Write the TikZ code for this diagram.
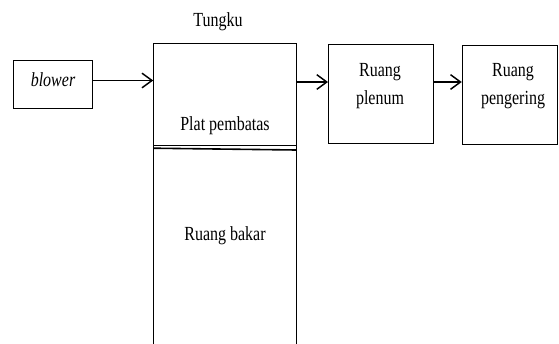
\documentclass[tikz,border=0pt]{standalone}
\usepackage{fontspec}
\setmainfont{Liberation Serif}[FakeStretch=0.8]
\usetikzlibrary{arrows.meta}
\begin{document}
\begin{tikzpicture}[x=0.75pt,y=-0.75pt,
  box/.style={draw=black,line width=0.75pt,rectangle,inner sep=0pt},
  lbl/.style={inner sep=0pt,align=center,font=\fontsize{15}{21}\selectfont},
  arr/.style={line width=1.1pt,-{Straight Barb[length=7.5pt,width=11pt,line width=1.1pt]}}]
\useasboundingbox[fill=white] (0,0) rectangle (559,343);
% boxes
\node[box,minimum width=59.25pt,minimum height=35.6pt] (blower) at (52.8,84.3) {};
\node[inner sep=0pt,minimum width=106.9pt,minimum height=225pt] (tungku) at (224.75,194) {};
\draw[line width=0.75pt] (tungku.south west) |- (tungku.north east) -- (tungku.south east);
\node[box,minimum width=79.1pt,minimum height=74.25pt] (plenum) at (381.25,94) {};
\node[box,minimum width=71.25pt,minimum height=74.25pt] (pengering) at (509.75,94.5) {};
% plates
\coordinate (p1) at (0,145);
\coordinate (p2a) at (0,148.2);
\coordinate (p2b) at (0,150);
\draw[line width=0.75pt] (tungku.west |- p1) -- (tungku.east |- p1);
\draw[line width=1.2pt] (tungku.west |- p2a) -- (tungku.east |- p2b);
% arrows
\coordinate (r1) at (0,80.5);
\coordinate (r2) at (0,82);
\draw[arr] (blower.east |- r1) -- (tungku.west |- r1);
\draw[arr] (tungku.east |- r2) -- (plenum.west |- r2);
\draw[arr] (plenum.east |- r2) -- (pengering.west |- r2);
% labels
\node[lbl] (blowertxt) at (53,80) {\itshape blower};
\node[lbl] (tungkutxt) at (218,22) {Tungku};
\node[lbl] (plattxt) at (225,126) {Plat pembatas};
\node[lbl] (bakartxt) at (225,236) {Ruang bakar};
\node[lbl] (plenumtxt) at (380,86) {Ruang\\plenum};
\node[lbl] (pengeringtxt) at (513,86) {Ruang\\pengering};
\end{tikzpicture}
\end{document}
